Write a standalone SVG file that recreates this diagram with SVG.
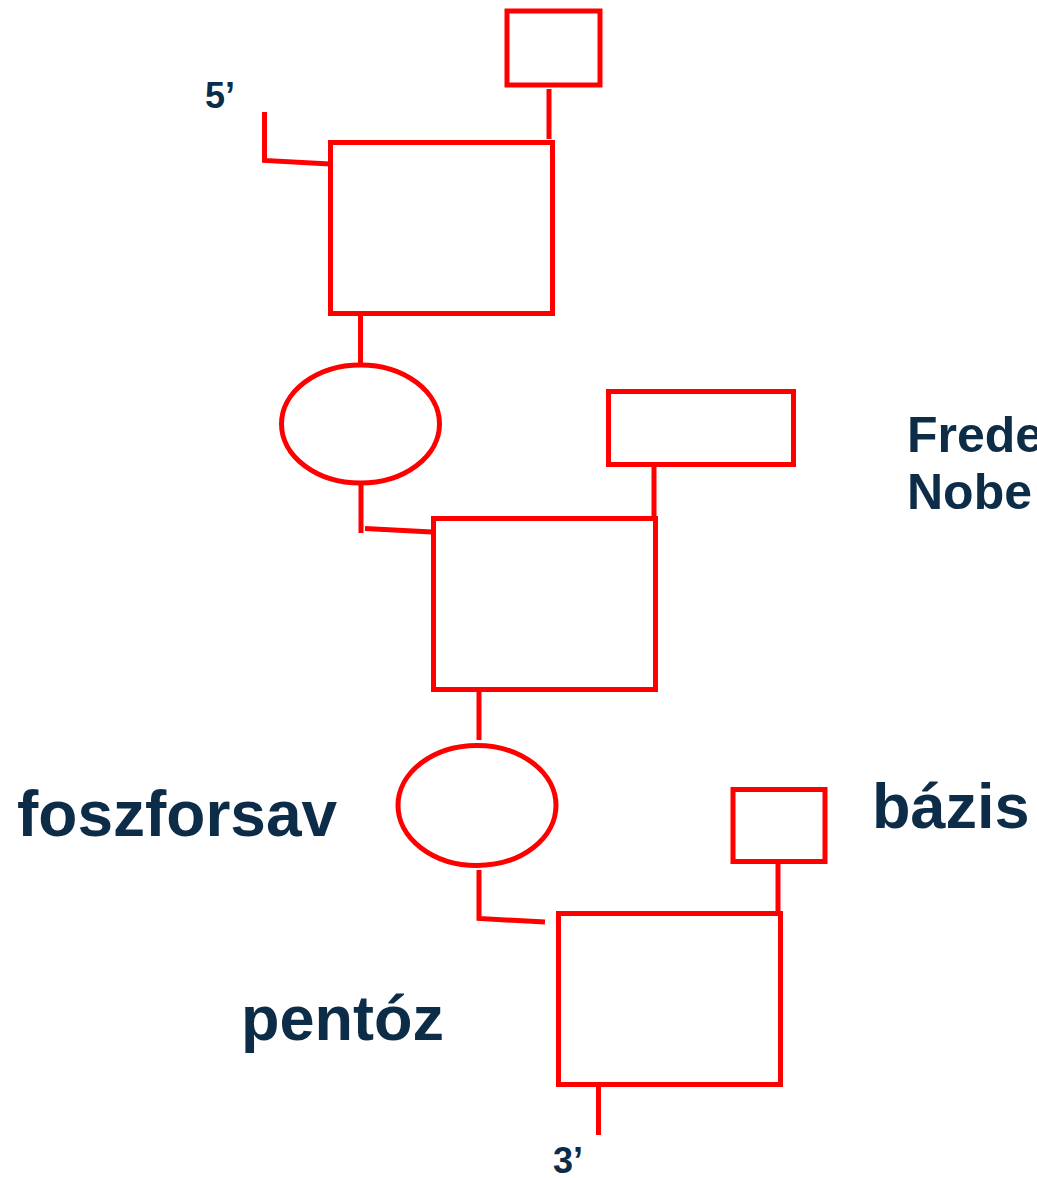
<svg xmlns="http://www.w3.org/2000/svg" width="1037" height="1178" viewBox="0 0 1037 1178">
<style>
.s{fill:none;stroke:#ff0000;stroke-width:5}
.t{fill:#0c2c47;font-family:"Liberation Sans",Arial,sans-serif;font-weight:bold}
</style>
<rect width="1037" height="1178" fill="#fff"/>
<g id="base1"><rect class="s" x="507" y="11" width="93" height="74"/></g>
<g id="sugar1"><rect class="s" x="330.5" y="142.5" width="222" height="171"/></g>
<g id="phosphate1"><ellipse class="s" cx="360.5" cy="424" rx="79" ry="59"/></g>
<g id="base2"><rect class="s" x="608.5" y="391.5" width="185" height="73"/></g>
<g id="sugar2"><rect class="s" x="433.5" y="518.5" width="222" height="171"/></g>
<g id="phosphate2"><ellipse class="s" cx="477" cy="805.5" rx="79" ry="60"/></g>
<g id="base3"><rect class="s" x="733" y="789.5" width="92" height="72"/></g>
<g id="sugar3"><rect class="s" x="558.5" y="913.5" width="222" height="171"/></g>
<g id="connectors">
<path class="s" d="M549 89V139"/>
<path class="s" d="M264.5 112V160.5L330 164"/>
<path class="s" d="M360.5 315V363"/>
<path class="s" d="M361 485V533"/>
<path class="s" d="M365 528.5L432 532"/>
<path class="s" d="M654 465V517"/>
<path class="s" d="M479 690V740"/>
<path class="s" d="M479 870V918.5L545 922"/>
<path class="s" d="M778 862V912"/>
<path class="s" d="M598.5 1085V1135"/>
</g>
<g id="labels">
<text class="t" x="205" y="108" font-size="36">5’</text>
<text class="t" x="553" y="1173" font-size="36">3’</text>
<text class="t" x="907" y="452" font-size="50">Frede</text>
<text class="t" x="907" y="509" font-size="50">Nobe</text>
<text class="t" x="17" y="836" font-size="64">foszforsav</text>
<text class="t" x="872" y="828" font-size="63">bázis</text>
<text class="t" x="241" y="1040" font-size="63">pentóz</text>
</g>
</svg>
